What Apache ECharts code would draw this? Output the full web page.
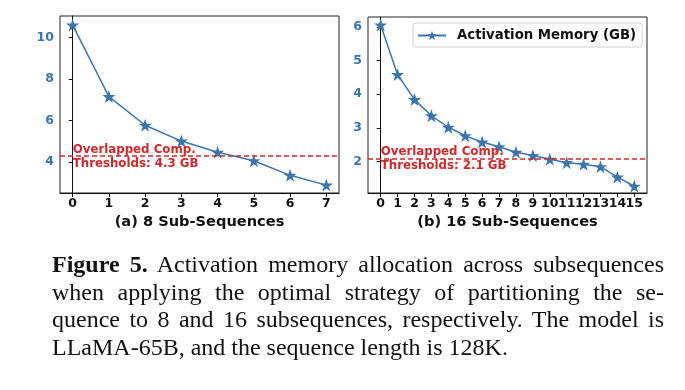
<!DOCTYPE html>
<html>
<head>
<meta charset="utf-8">
<script src="https://cdn.jsdelivr.net/npm/echarts@6/dist/echarts.min.js"></script>
<style>
  html, body { margin: 0; padding: 0; background: #fff; }
  #chart { position: absolute; left: 0; top: 0; width: 685px; height: 390px; }
  #caption { position: absolute; left: 52px; top: 251px; width: 612px;
    font-family: "Liberation Serif", "DejaVu Serif", serif; font-size: 24px; line-height: 27.5px; color: #111; }
  #caption .j { text-align: justify; text-align-last: justify; white-space: nowrap; }
</style>
</head>
<body>
<div id="chart"></div>
<div id="caption">
  <div class="j"><b>Figure 5.</b> Activation memory allocation across subsequences</div>
  <div class="j">when applying the optimal strategy of partitioning the se-</div>
  <div class="j">quence to 8 and 16 subsequences, respectively. The model is</div>
  <div>LLaMA-65B, and the sequence length is 128K.</div>
</div>
<script>
// ---- data ----
const subSeq8 = [0, 1, 2, 3, 4, 5, 6, 7];
const memory8 = [10.59, 7.15, 5.77, 5.01, 4.47, 4.06, 3.36, 2.89];
const threshold8 = 4.3;
const subSeq16 = [0, 1, 2, 3, 4, 5, 6, 7, 8, 9, 10, 11, 12, 13, 14, 15];
const memory16 = [6.05, 4.58, 3.84, 3.36, 3.02, 2.77, 2.58, 2.44, 2.28, 2.18, 2.07, 1.97, 1.92, 1.85, 1.54, 1.27];
const threshold16 = 2.1;
const yTicks8 = [4, 6, 8, 10];
const yTicks16 = [2, 3, 4, 5, 6];
const seriesName = 'Activation Memory (GB)';
const titleA = '(a) 8 Sub-Sequences';
const titleB = '(b) 16 Sub-Sequences';
const thresholdLabel = (v) => 'Overlapped Comp.\nThresholds: ' + v + ' GB';

const BLUE = '#3a75af';
const RED = '#d62728';
const STAR = 'path://M50,0 L61.8,35.1 L98.5,35.1 L68.8,56.7 L80.3,91.9 L50,70 L19.7,91.9 L31.2,56.7 L1.5,35.1 L38.2,35.1 Z';
const FONT = 'DejaVu Sans';

const chart = echarts.init(document.getElementById('chart'), null, { renderer: 'canvas' });

// split tick labels into two interleaved sets so none of them gets hidden by overlap handling
const evenOf = (arr) => arr.filter((_, i) => i % 2 === 0);
const oddOf = (arr) => arr.filter((_, i) => i % 2 === 1);

function xAxisCfg(gridIndex, cats, name, labelVals, withLine) {
  const n = cats.length - 1;
  const pad = n * 0.05;
  return {
    type: 'value', gridIndex, min: -pad, max: n + pad, position: 'bottom',
    name: withLine ? name : '', nameLocation: 'middle', nameGap: 22,
    nameTextStyle: { fontFamily: FONT, fontWeight: 'bold', fontSize: 14.6, color: '#111' },
    axisLine: { show: withLine, lineStyle: { color: '#111', width: 1 } },
    axisTick: { show: withLine, length: 4, lineStyle: { color: '#111' }, customValues: cats },
    axisLabel: { fontFamily: FONT, fontWeight: 'bold', fontSize: 12.5, color: '#111', margin: 4,
      customValues: labelVals, hideOverlap: false },
    splitLine: { show: false }
  };
}
function yAxisCfg(gridIndex, min, max, ticks) {
  return {
    type: 'value', gridIndex, min, max,
    axisLine: { show: true, lineStyle: { color: '#111', width: 1 } },
    axisTick: { show: true, length: 4, lineStyle: { color: '#111' }, customValues: ticks },
    axisLabel: { fontFamily: FONT, fontWeight: 'bold', fontSize: 12.5, color: BLUE, margin: 6,
      customValues: ticks },
    splitLine: { show: false }
  };
}
function lineSeries(xIdx, yIdx, xs, ys, thr) {
  return {
    name: seriesName, type: 'line', xAxisIndex: xIdx, yAxisIndex: yIdx,
    data: xs.map((x, i) => [x, ys[i]]),
    symbol: STAR, symbolSize: 13, showAllSymbol: true,
    lineStyle: { color: BLUE, width: 1.5 },
    itemStyle: { color: BLUE },
    animation: false,
    markLine: {
      silent: true, symbol: 'none', animation: false,
      lineStyle: { color: RED, type: [5, 3], width: 1.5 },
      label: { show: false },
      data: [{ yAxis: thr }]
    },
    markPoint: {
      silent: true, animation: false, symbol: 'circle', symbolSize: 0,
      itemStyle: { color: 'transparent' },
      label: {
        show: true, position: 'right', distance: 0, align: 'left', verticalAlign: 'middle',
        formatter: thresholdLabel(thr), fontFamily: FONT, fontWeight: 'bold', fontSize: 11.8,
        lineHeight: 14, color: RED, offset: [0, 1]
      },
      data: [{ coord: [xs[0], thr] }]
    }
  };
}

chart.setOption({
  backgroundColor: '#fff',
  animation: false,
  grid: [
    { left: 60, top: 16, width: 279, height: 177, show: true, borderColor: '#222', borderWidth: 1, containLabel: false },
    { left: 368, top: 17, width: 279, height: 176, show: true, borderColor: '#222', borderWidth: 1, containLabel: false }
  ],
  xAxis: [
    xAxisCfg(0, subSeq8, titleA, subSeq8, true),
    xAxisCfg(1, subSeq16, titleB, evenOf(subSeq16), true),
    xAxisCfg(1, subSeq16, titleB, oddOf(subSeq16), false)
  ],
  yAxis: [yAxisCfg(0, 2.51, 11.03, yTicks8), yAxisCfg(1, 1.07, 6.29, yTicks16)],
  legend: {
    data: [seriesName], left: 413, top: 23, orient: 'horizontal',
    itemWidth: 28, itemHeight: 12, padding: [6, 6, 5, 4],
    borderColor: '#d0d0d0', borderWidth: 1, borderRadius: 3, backgroundColor: 'rgba(255,255,255,0.8)',
    textStyle: { fontFamily: FONT, fontWeight: 'bold', fontSize: 13.3, color: '#111', padding: [0, 0, 0, 6] }
  },
  series: [lineSeries(0, 0, subSeq8, memory8, threshold8), lineSeries(1, 1, subSeq16, memory16, threshold16)]
});
</script>
</body>
</html>
